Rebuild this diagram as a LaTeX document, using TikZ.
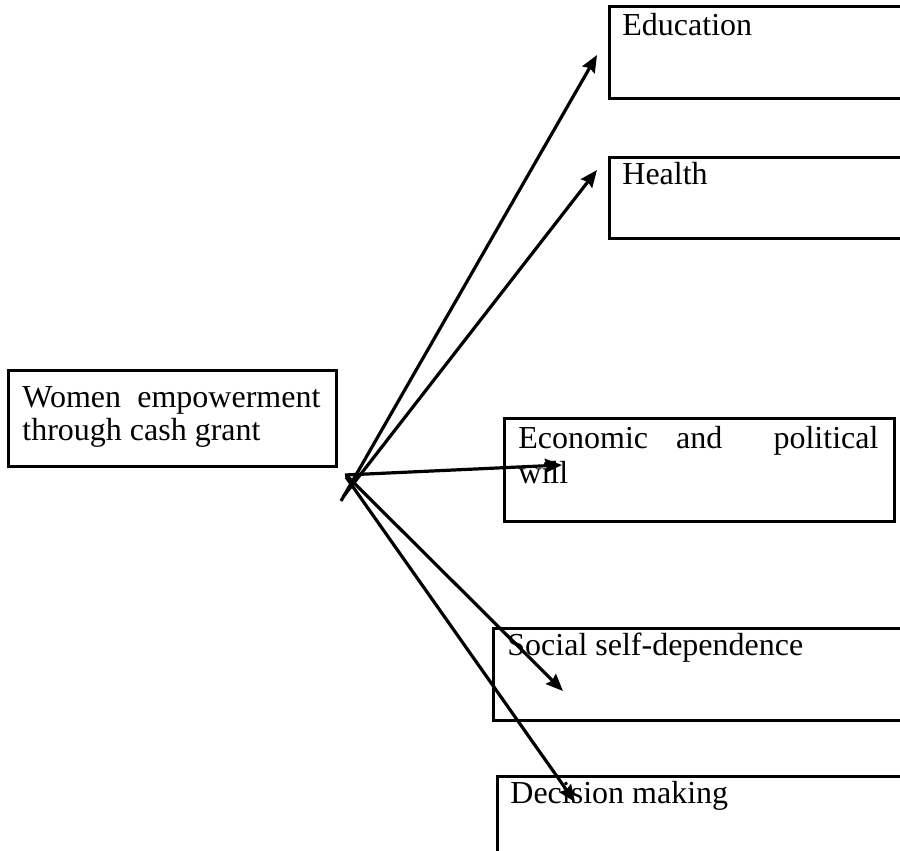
\documentclass[tikz,border=0pt]{standalone}
\usepackage{fontspec}
\setmainfont{Liberation Serif}
\usetikzlibrary{arrows.meta}
\tikzstyle{box} = [draw, line width=1.6pt, anchor=north west, inner sep=0pt]
\tikzstyle{txt} = [anchor=base west, inner sep=0pt, font=\fontsize{16}{18}\selectfont]
\tikzstyle{arrow} = [line width=1.6pt, -{Stealth[length=8.5pt,width=7pt,inset=1pt]}]

\begin{document}
\begin{tikzpicture}[x=0.5pt, y=-0.5pt]
    \useasboundingbox (0,0) rectangle (900,851);
    \clip (0,0) rectangle (900,851);

    % Source box
    \node[box, minimum width=164pt, minimum height=48pt] (source) at (7,369) {};
    \node[txt] (sourceA) at (22,407) {\hbox to 149pt{Women\hfill empowerment}};
    \node[txt] (sourceB) at (22,440) {through cash grant};

    % Outcome boxes
    \node[box, minimum width=148.5pt, minimum height=46pt] (edu) at (608,5) {};
    \node[txt] (eduT) at (622,35) {Education};

    \node[box, minimum width=148.5pt, minimum height=40.5pt] (health) at (608,156) {};
    \node[txt] (healthT) at (622,184) {Health};

    \node[box, minimum width=195pt, minimum height=51.5pt] (econ) at (503,417) {};
    \node[txt] (econA) at (518,448) {\hbox to 180pt{Economic\hskip 14pt and\hfill political}};
    \node[txt] (econB) at (518,483) {will};

    \node[box, minimum width=206.5pt, minimum height=46pt] (social) at (492,627) {};
    \node[txt] (socialT) at (507,655) {Social self-dependence};

    \node[box, minimum width=204.5pt, minimum height=42.5pt] (decide) at (496,775) {};
    \node[txt] (decideT) at (510,803) {Decision making};

    % Hub and arrow tips
    \coordinate (hubA) at (341,501);
    \coordinate (hubB) at (343,497);
    \coordinate (hubC) at (345,475);
    \coordinate (hubD) at (346,475);
    \coordinate (hubE) at (346,477);
    \coordinate (eduTip) at (597,55);
    \coordinate (healthTip) at (597,170);
    \coordinate (econTip) at (562,465);
    \coordinate (socialTip) at (563,691);
    \coordinate (decideTip) at (575,802);

    \draw[arrow] (hubA) -- (eduTip);
    \draw[arrow] (hubB) -- (healthTip);
    \draw[arrow] (hubC) -- (econTip);
    \draw[arrow] (hubD) -- (socialTip);
    \draw[arrow] (hubE) -- (decideTip);
\end{tikzpicture}
\end{document}
